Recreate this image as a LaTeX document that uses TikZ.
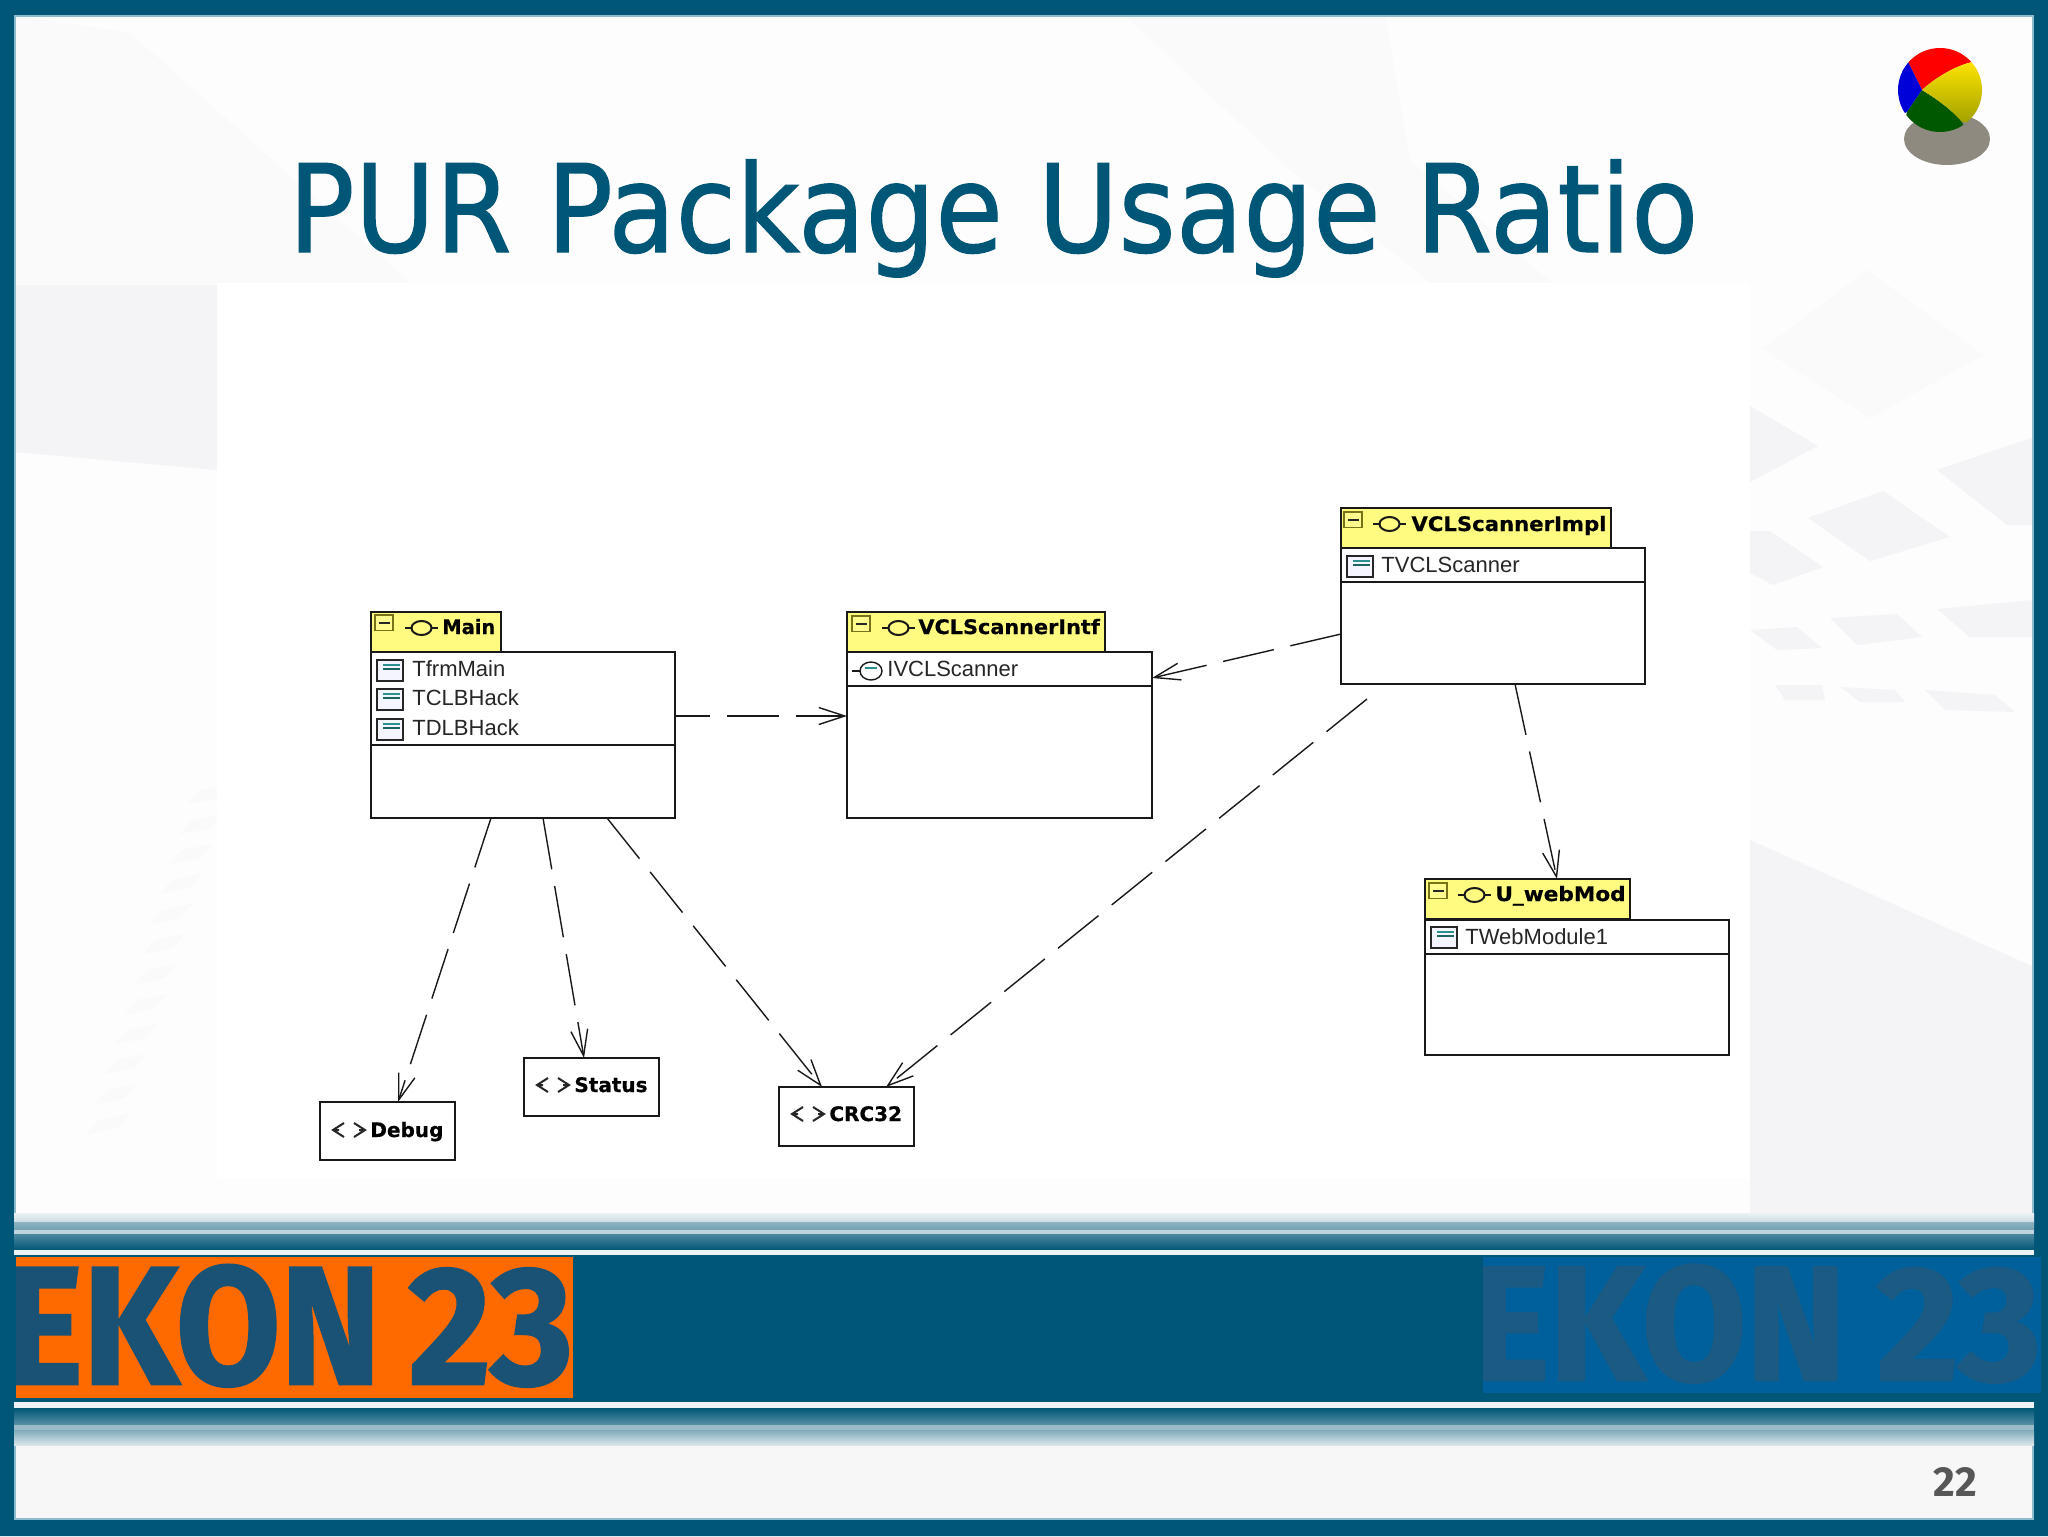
\documentclass[tikz,border=0pt]{standalone}
\usepackage{fontspec}
\usetikzlibrary{arrows.meta,shadings}
\newfontfamily\ftitle[FakeBold=0.9]{DejaVu Sans}
\newfontfamily\fhead[FakeBold=0.5]{DejaVu Sans}
\newfontfamily\farial{Liberation Sans}
\newfontfamily\flogo[FakeBold=1.5]{Fira Sans}
\newfontfamily\fpage{Fira Sans}
\definecolor{framec}{HTML}{005676}
\definecolor{edgec}{HTML}{8FBCCD}
\definecolor{tabc}{HTML}{FFFB80}
\definecolor{bgc}{HTML}{FDFDFE}
\definecolor{ghost}{HTML}{F4F4F6}
\definecolor{ghostb}{HTML}{FAFAFB}
\definecolor{logoink}{HTML}{1A5276}
\definecolor{logoinkb}{HTML}{1B5A82}
\definecolor{orangec}{HTML}{FF6A00}
\definecolor{blueb}{HTML}{00609B}
\definecolor{tealc}{HTML}{2A9090}
\definecolor{shadowc}{HTML}{8E8A80}
\tikzset{
  pbody/.style={draw=black!90,fill=white,line width=.85pt,inner sep=0pt,outer sep=0pt,anchor=north west},
  ptab/.style={pbody,fill=tabc},
  umlline/.style={black!90,line width=.85pt},
  dep/.style={black!90,line width=.7pt,dash pattern=on 26pt off 8.5pt,-{Straight Barb[length=13pt,width=8.5pt,line width=.7pt]}},
  rowtext/.style={font=\farial\fontsize{11}{11}\selectfont,anchor=base west,inner sep=0pt,text=black!85},
  headtext/.style={font=\fhead\bfseries\fontsize{10}{10}\selectfont,anchor=base west,inner sep=0pt,text=black},
  logotext/.style={font=\flogo\bfseries\fontsize{84}{84}\selectfont,anchor=base west,inner sep=0pt},
}
% class icon, top left corner at #1,#2
\newcommand\classicon[2]{\begin{scope}[shift={(#1,#2)}]
  \draw[black!85,fill=blue!4,line width=.65pt] (0,0) rectangle (26,21);
  \draw[tealc,line width=.7pt] (6,5) -- (23,5);
  \draw[tealc!70!black,line width=.7pt] (6,9) -- (23,9);
\end{scope}}
% collapse box
\newcommand\minusbox[2]{\begin{scope}[shift={(#1,#2)}]
  \draw[olive!80!black,fill=tabc!90!white,line width=.55pt] (0,0) rectangle (18,15.5);
  \draw[black!85,line width=.6pt] (4,8) -- (15,8);
\end{scope}}
% package glyph, left end at #1,#2
\newcommand\pkgicon[2]{\begin{scope}[shift={(#1,#2)}]
  \draw[black!90,line width=.9pt] (0,0) -- (33,0);
  \draw[black!90,fill=tabc,line width=1pt] (16.5,0) ellipse [x radius=10,y radius=7];
\end{scope}}
% chevrons for the small boxes, left tip at #1,#2
\newcommand\chev[2]{\begin{scope}[shift={(#1,#2)}]
  \draw[black!85,line width=1pt] (11,-7) -- (0,0) -- (11,7) (0,0) -- (6,0);
  \draw[black!85,line width=1pt] (21,-7) -- (32,0) -- (21,7) (26,0) -- (32,0);
\end{scope}}
\begin{document}
\begin{tikzpicture}[x=.5pt,y=-.5pt]
\useasboundingbox (0,0) rectangle (2048,1536);
% page background
\fill[bgc] (0,0) rectangle (2048,1536);
\fill[ghostb] (14,15) -- (130,33) -- (418,290) -- (217,290) -- (217,470) -- (14,440) -- cycle;
\fill[ghost] (14,285) -- (217,285) -- (217,470) -- (14,452) -- cycle;
\fill[ghostb] (1125,15) -- (1385,15) -- (1410,160) -- (1560,290) -- (1440,290) -- (1290,170) -- cycle;
\fill[ghost] (1750,840) -- (2034,967) -- (2034,1213) -- (1750,1213) -- cycle;
\fill[ghostb] (1763,349) -- (1867,270) -- (1983,355) -- (1870,418) -- cycle;
\fill[ghost] (1750,406) -- (1818,446) -- (1750,482) -- cycle;
\fill[ghost] (1808,518) -- (1883,491) -- (1950,537) -- (1870,561) -- cycle;
\fill[ghost] (1937,470) -- (2034,437) -- (2034,525) -- (2007,525) -- cycle;
\fill[ghost] (1750,531) -- (1770,531) -- (1823,567) -- (1773,585) -- (1750,573) -- cycle;
\fill[ghost] (1937,609) -- (2034,600) -- (2034,637) -- (1970,637) -- cycle;
\fill[ghost] (1830,618) -- (1897,614) -- (1922,637) -- (1857,645) -- cycle;
\fill[ghost] (1750,630) -- (1797,627) -- (1822,648) -- (1777,650) -- cycle;
\fill[ghost] (1775,685) -- (1822,685) -- (1825,700) -- (1785,700) -- cycle;
\fill[ghost] (1840,687) -- (1895,690) -- (1905,702) -- (1860,702) -- cycle;
\fill[ghost] (1925,690) -- (1995,695) -- (2015,712) -- (1945,710) -- cycle;
\foreach \yy/\xx in {790/213,820/205,850/195,880/185,910/175,940/168,970/160,1000/150,1030/140,1060/130,1090/120,1120/112}
  \fill[ghostb] (\xx,\yy) ++(-25,14) -- ++(30,-6) -- ++(12,-14) -- ++(-30,6) -- cycle;
\fill[black!3] (14,1445) rectangle (2034,1520);
% frame
\fill[framec,even odd rule] (0,0) rectangle (2048,1536) (14,15) rectangle (2034,1520);
\draw[edgec,line width=1pt] (15,16) rectangle (2033,1519);
% band
\shade[top color=white!92!framec,bottom color=white!80!framec] (14,1213) rectangle (2034,1222);
\shade[top color=white!55!framec,bottom color=white!45!framec] (14,1222) rectangle (2034,1230);
\fill[white!75!framec] (14,1230) rectangle (2034,1234);
\shade[top color=white!30!framec,bottom color=framec] (14,1234) rectangle (2034,1250);
\fill[white!93!framec] (14,1250) rectangle (2034,1255);
\fill[framec] (14,1255) rectangle (2034,1402);
\fill[white!93!framec] (14,1402) rectangle (2034,1408);
\shade[top color=framec,bottom color=white!35!framec] (14,1408) rectangle (2034,1425);
\fill[white!60!framec] (14,1425) rectangle (2034,1430);
\shade[top color=white!50!framec,bottom color=white!85!framec] (14,1430) rectangle (2034,1445);
% logos
\begin{scope}
  \clip (16,1257) rectangle (573,1398);
  \fill[orangec] (16,1257) rectangle (573,1398);
  \node[logotext,text=logoink,xscale=.9] (logoa) at (3,1384) {EKON};
  \node[logotext,text=logoink,xscale=.95] (logob) at (408,1384) {23};
\end{scope}
\begin{scope}
  \clip (1483,1257) rectangle (2041,1393);
  \fill[blueb] (1483,1257) rectangle (2041,1393);
  \node[logotext,font=\flogo\bfseries\fontsize{81.3}{81.3}\selectfont,text=logoinkb,xscale=.925] (logoc) at (1470,1380) {EKON};
  \node[logotext,font=\flogo\bfseries\fontsize{81.3}{81.3}\selectfont,text=logoinkb,xscale=.98] (logod) at (1876,1380) {23};
\end{scope}
% ball
\fill[shadowc] (1947,139) ellipse [x radius=43,y radius=26];
\begin{scope}
  \clip (1940,90) circle [radius=42];
  \fill[red] (1922,90) .. controls (1935,78) and (1955,66) .. (1972,62) -- (1980,40) -- (1900,40) -- (1908,62) -- cycle;
  \fill[blue!85!black] (1922,90) -- (1908,62) -- (1890,60) -- (1890,120) -- (1907,112) -- cycle;
  \fill[green!35!black] (1922,90) -- (1907,112) -- (1900,140) -- (1970,140) -- (1962,122) .. controls (1950,108) and (1935,98) .. (1922,90) -- cycle;
  \shade[top color=yellow!90!red,bottom color=yellow!62!black] (1922,90) .. controls (1935,78) and (1955,66) .. (1972,62) -- (1990,60) -- (1990,125) -- (1962,122) .. controls (1950,108) and (1935,98) .. (1922,90) -- cycle;
\end{scope}
% title and page number
\node[font=\ftitle\fontsize{61}{61}\selectfont,text=framec,anchor=base west,inner sep=0pt,xscale=.902] (title) at (288,252) {PUR Package Usage Ratio};
\node[font=\fpage\bfseries\fontsize{21}{21}\selectfont,text=black!66,anchor=base west,inner sep=0pt] (pageno) at (1933,1496) {22};
% white picture area
\fill[white] (217,283) rectangle (1750,1178);
% package Main
\node[ptab,minimum width=65pt,minimum height=20pt] (maintab) at (371,612) {};
\node[pbody,minimum width=152pt,minimum height=83pt] (main) at (371,652) {};
\draw[umlline] ([yshift=-46.5pt]main.north west) -- ([yshift=-46.5pt]main.north east);
\minusbox{375}{615}\pkgicon{405}{628}
\node[headtext,xscale=.97] (mainh) at (442,634) {Main};
\classicon{377}{660}\classicon{377}{689}\classicon{377}{719}
\node[rowtext] (mainr1) at (412,676) {TfrmMain};
\node[rowtext] (mainr2) at (412,705.5) {TCLBHack};
\node[rowtext] (mainr3) at (412,735) {TDLBHack};
% package VCLScannerIntf
\node[ptab,minimum width=129pt,minimum height=20pt] (intftab) at (847,612) {};
\node[pbody,minimum width=152.5pt,minimum height=83pt] (intf) at (847,652) {};
\draw[umlline] ([yshift=-17pt]intf.north west) -- ([yshift=-17pt]intf.north east);
\minusbox{852}{616}\pkgicon{882}{628}
\node[headtext,xscale=1.04] (intfh) at (918,634) {VCLScannerIntf};
\draw[black!90,line width=.7pt] (852,671) -- (860,671);
\draw[black!90,line width=.7pt] (871,671) ellipse [x radius=11,y radius=9];
\draw[tealc,line width=.7pt] (865,668) -- (877,668);
\node[rowtext] (intfr1) at (887,676) {IVCLScanner};
% package VCLScannerImpl
\node[ptab,minimum width=135pt,minimum height=20pt] (impltab) at (1341,508) {};
\node[pbody,minimum width=152pt,minimum height=68pt] (impl) at (1341,548) {};
\draw[umlline] ([yshift=-17pt]impl.north west) -- ([yshift=-17pt]impl.north east);
\minusbox{1344}{512}\pkgicon{1373}{524}
\node[headtext,xscale=1.06] (implh) at (1411,531) {VCLScannerImpl};
\classicon{1347}{556}
\node[rowtext] (implr1) at (1381,572) {TVCLScanner};
% package U_webMod
\node[ptab,minimum width=102.5pt,minimum height=20pt] (webtab) at (1425,879) {};
\node[pbody,minimum width=152pt,minimum height=67.5pt] (web) at (1425,920) {};
\draw[umlline] ([yshift=-17pt]web.north west) -- ([yshift=-17pt]web.north east);
\minusbox{1429}{883}\pkgicon{1458}{895}
\node[headtext,xscale=1.08] (webh) at (1495,901) {U\_webMod};
\classicon{1431}{927}
\node[rowtext] (webr1) at (1465,944) {TWebModule1};
% small packages
\node[pbody,minimum width=67.5pt,minimum height=29pt] (debug) at (320,1102) {};
\chev{333}{1130}
\node[headtext] (debugh) at (370,1137) {Debug};
\node[pbody,minimum width=67.5pt,minimum height=29pt] (status) at (524,1058) {};
\chev{537}{1085}
\node[headtext] (statush) at (574,1092) {Status};
\node[pbody,minimum width=67.5pt,minimum height=29.5pt] (crc) at (779,1087) {};
\chev{792}{1114}
\node[headtext] (crch) at (829,1121) {CRC32};
% dependencies
\draw[dep,dash phase=8.5pt] ([yshift=-32pt]main.north east) -- ([yshift=-32pt]intf.north west);
\draw[dep] ([yshift=-43pt]impl.north west) -- ([yshift=-13pt]intf.north east);
\draw[dep] ([xshift=60pt]main.south west) -- ([xshift=39pt]debug.north west);
\draw[dep] ([xshift=86pt]main.south west) -- ([xshift=30pt]status.north west);
\draw[dep] ([xshift=118pt]main.south west) -- ([xshift=21.5pt]crc.north west);
\draw[dep] ([xshift=13pt,yshift=-7.5pt]impl.south west) -- ([xshift=53.5pt]crc.north west);
\draw[dep] ([xshift=87pt]impl.south west) -- ([xshift=66pt]webtab.north west);
\end{tikzpicture}
\end{document}
